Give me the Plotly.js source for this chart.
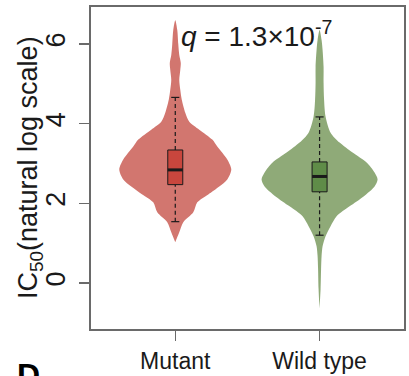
<!DOCTYPE html>
<html><head><meta charset="utf-8">
<script src="https://cdn.plot.ly/plotly-3.0.1.min.js"></script>
<style>html,body{margin:0;padding:0;background:#fff;overflow:hidden}#chart{width:409px;height:376px}</style>
</head><body><div id="chart"></div>
<script>
const categories = ['Mutant', 'Wild type'];
const mutantLevels = [6.6, 6.35, 6.0, 5.725, 5.525, 5.35, 5.1, 4.85, 4.6, 4.275, 4.05, 3.85, 3.6, 3.425, 3.1, 2.85, 2.6, 2.425, 2.225, 2.025, 1.775, 1.525, 1.275, 1.025];
const mutantDensity = [0, 2, 3, 4, 5.5, 5, 4, 5, 6.5, 10, 14, 24, 37, 42, 52, 56, 52, 44, 33, 22, 18, 8, 4, 0];
const wildLevels = [6.35, 6.1, 5.85, 5.425, 5.025, 4.6, 4.175, 3.775, 3.525, 3.275, 3.025, 2.775, 2.6, 2.425, 2.175, 1.925, 1.675, 1.425, 1.175, 0.925, 0.675, 0.35, -0.15, -0.65];
const wildDensity = [0, 2, 3, 4, 4, 4.5, 6, 11, 20, 33, 47, 55, 58, 55, 44, 30, 17, 11, 6, 3, 2, 1.5, 1, 0];
const q1 = [2.47, 2.29];
const medians = [2.84, 2.675];
const q3 = [3.34, 3.04];
const whiskerLow = [1.54, 1.2];
const whiskerHigh = [4.66, 4.17];
const qLabel = '<i>q</i> = 1.3×10<sup>-7</sup>';
const yTitle = 'IC<sub>50</sub>(natural log scale)';
const panelLetter = 'D';

const violinColors = ['#d2766f', '#8faa78'];
const boxColors = ['#c9463d', '#5f8c48'];
const widthScale = 1 / 144.3;
const boxHalf = 0.052;
const capHalf = 0.028;
const ink = '#1a1a1a';
const frame = '#6a6a6a';

const traces = [];
const levelsAll = [mutantLevels, wildLevels];
const densAll = [mutantDensity, wildDensity];
categories.forEach((cat, i) => {
  const c = i + 1;
  const lv = levelsAll[i], d = densAll[i];
  const xs = [], ys = [];
  for (let k = 0; k < lv.length; k++) { xs.push(c + d[k] * widthScale); ys.push(lv[k]); }
  for (let k = lv.length - 1; k >= 0; k--) { xs.push(c - d[k] * widthScale); ys.push(lv[k]); }
  traces.push({type:'scatter', mode:'lines', x:xs, y:ys, fill:'toself', fillcolor:violinColors[i],
    line:{width:0, shape:'spline', smoothing:0.8, color:violinColors[i]}, hoverinfo:'skip', showlegend:false});
  traces.push({type:'scatter', mode:'lines', x:[c, c, null, c, c], y:[q3[i], whiskerHigh[i], null, whiskerLow[i], q1[i]],
    line:{color:ink, width:1.2, dash:'4px,3px'}, hoverinfo:'skip', showlegend:false});
  traces.push({type:'scatter', mode:'lines', x:[c-capHalf, c+capHalf, null, c-capHalf, c+capHalf],
    y:[whiskerHigh[i], whiskerHigh[i], null, whiskerLow[i], whiskerLow[i]],
    line:{color:ink, width:1.2}, hoverinfo:'skip', showlegend:false});
  traces.push({type:'scatter', mode:'lines', x:[c-boxHalf, c+boxHalf, c+boxHalf, c-boxHalf, c-boxHalf],
    y:[q1[i], q1[i], q3[i], q3[i], q1[i]], fill:'toself', fillcolor:boxColors[i],
    line:{color:ink, width:1}, hoverinfo:'skip', showlegend:false});
  traces.push({type:'scatter', mode:'lines', x:[c-boxHalf, c+boxHalf], y:[medians[i], medians[i]],
    line:{color:ink, width:3}, hoverinfo:'skip', showlegend:false});
});

const font = 'Liberation Sans, Arial, sans-serif';
const layout = {
  width:409, height:376,
  margin:{l:91, r:5, t:7, b:47},
  paper_bgcolor:'#fff', plot_bgcolor:'#fff',
  font:{family:font, color:ink},
  showlegend:false,
  xaxis:{range:[0.416, 2.585], tickmode:'array', tickvals:[1,2], ticktext:categories,
    ticks:'outside', ticklen:10, tickwidth:1.5, tickcolor:frame, showline:true, mirror:true,
    linecolor:frame, linewidth:2, showgrid:false, zeroline:false, tickfont:{size:23, family:font, color:ink}},
  yaxis:{range:[-1.155, 6.93], tickmode:'array', tickvals:[0,2,4,6], tickangle:-90,
    ticks:'outside', ticklen:10, tickwidth:1.5, tickcolor:frame, showline:true, mirror:true, ticklabelstandoff:3,
    linecolor:frame, linewidth:2, showgrid:false, zeroline:false, tickfont:{size:27, family:font, color:ink}},
  annotations:[
    {text:qLabel, xref:'x', yref:'y', x:1.56, y:6.25, showarrow:false, xanchor:'center', yanchor:'middle',
      font:{size:28, family:font, color:ink}},
    {text:yTitle, xref:'paper', yref:'paper', x:0, xshift:-61, y:0.5, xanchor:'center', yanchor:'middle',
      textangle:-90, showarrow:false, font:{size:27, family:font, color:ink}},
    {text:'<b>'+panelLetter+'</b>', xref:'paper', yref:'paper', x:(15-91)/313, y:(329-355)/322,
      xanchor:'left', yanchor:'top', showarrow:false, font:{size:32, family:font, color:'#000'}}
  ]
};
Plotly.newPlot('chart', traces, layout, {staticPlot:true, displayModeBar:false});
</script>
</body></html>
